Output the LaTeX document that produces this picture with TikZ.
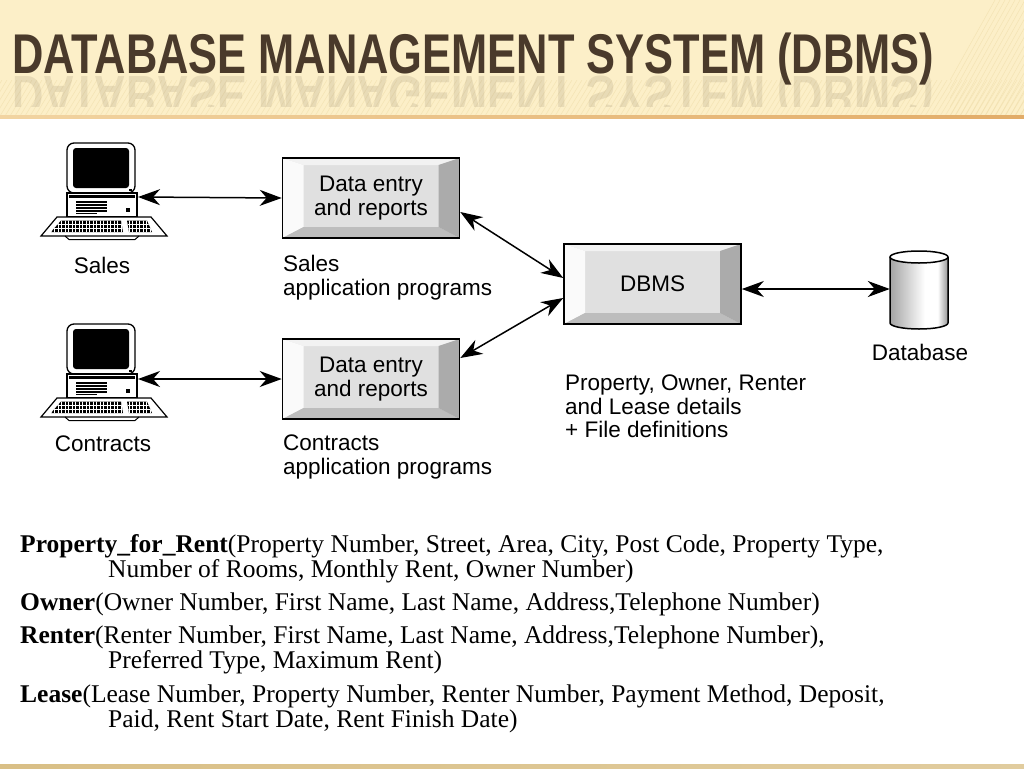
\documentclass[tikz,border=0pt]{standalone}
\usepackage{fontspec}
\setmainfont{Liberation Serif}
\newfontfamily\arialf{Liberation Sans}
\usetikzlibrary{arrows.meta}
\definecolor{band}{HTML}{FCEFC8}
\definecolor{stripec}{HTML}{EEDBA6}
\definecolor{bandline}{HTML}{E2AC68}
\definecolor{footline}{HTML}{D9BF86}
\definecolor{titlec}{HTML}{4A3A2B}
\definecolor{face}{HTML}{E0E0E0}
\definecolor{bevtop}{HTML}{F2F2F2}
\definecolor{bevleft}{HTML}{FAFAFA}
\definecolor{bevbot}{HTML}{BDBDBD}
\definecolor{bevright}{HTML}{ABABAB}
\definecolor{cylL}{HTML}{A4A4A4}
\definecolor{cylR}{HTML}{959595}
\pgfdeclarehorizontalshading{cylshade}{100bp}{color(0bp)=(cylL); color(25bp)=(cylL); color(55bp)=(white); color(66bp)=(white); color(75bp)=(cylR); color(100bp)=(cylR)}
\tikzset{
  sanstext/.style={font=\arialf\fontsize{22.5}{23.5}\selectfont, inner sep=0pt},
  serifline/.style={font=\fontsize{25.5}{27}\selectfont, anchor=base west, inner sep=0pt},
  titlest/.style={font=\arialf\bfseries\fontsize{56}{60}\selectfont, text=titlec, anchor=base west, inner sep=0pt, xscale=0.775},
  biarrow/.style={{Stealth[length=22pt,width=16pt,inset=7pt]}-{Stealth[length=22pt,width=16pt,inset=7pt]}, line width=1.5pt},
  bevelbox/.style={draw=black, line width=1.6pt, fill=face, minimum width=177pt, minimum height=80pt,
    sanstext, align=center,
    path picture={
      \fill[bevtop] (path picture bounding box.north west) -- (path picture bounding box.north east)
        -- ([xshift=-21pt,yshift=-7pt]path picture bounding box.north east)
        -- ([xshift=21pt,yshift=-7pt]path picture bounding box.north west) -- cycle;
      \fill[bevleft] (path picture bounding box.north west) -- (path picture bounding box.south west)
        -- ([xshift=21pt,yshift=11pt]path picture bounding box.south west)
        -- ([xshift=21pt,yshift=-7pt]path picture bounding box.north west) -- cycle;
      \fill[bevbot] (path picture bounding box.south west) -- (path picture bounding box.south east)
        -- ([xshift=-21pt,yshift=11pt]path picture bounding box.south east)
        -- ([xshift=21pt,yshift=11pt]path picture bounding box.south west) -- cycle;
      \fill[bevright] (path picture bounding box.north east) -- (path picture bounding box.south east)
        -- ([xshift=-21pt,yshift=11pt]path picture bounding box.south east)
        -- ([xshift=-21pt,yshift=-7pt]path picture bounding box.north east) -- cycle;
    }},
  computer/.pic={
    \draw[line width=1.3pt, fill=white, rounded corners=7pt] (0,0) rectangle (68,50);
    \fill[black, rounded corners=3pt] (6,5) rectangle (62,45);
    \fill (62,46) rectangle (65,48);
    \draw[line width=1.2pt, fill=white] (0,50) rectangle (70,74);
    \fill (2,52) rectangle (68,55);
    \foreach \yy in {58,61,64,67} \fill (9,\yy) rectangle (40,\yy+1.6);
    \fill (9,70) rectangle (30,71.3);
    \fill (59,65) rectangle (63,68.5);
    \draw[line width=1.2pt, fill=white] (-10,74) -- (84,74) -- (100,93) -- (-26,93) -- cycle;
    \begin{scope}
      \clip (-6,77.5) -- (54,77.5) -- (56,89) -- (-16,89) -- cycle;
      \fill (-20,77) rectangle (58,90);
      \foreach \yy in {81,85} \draw[white, line width=0.5pt] (-20,\yy) -- (58,\yy);
      \draw[white, line width=14pt, dash pattern=on 0.5pt off 3pt] (-20,83) -- (58,83);
    \end{scope}
    \begin{scope}
      \clip (60,77.5) -- (80,77.5) -- (85,89) -- (62,89) -- cycle;
      \fill (58,77) rectangle (88,90);
      \foreach \yy in {81,85} \draw[white, line width=0.5pt] (58,\yy) -- (88,\yy);
      \draw[white, line width=14pt, dash pattern=on 0.5pt off 3pt] (58,83) -- (88,83);
    \end{scope}
    \draw[line width=1pt] (-2,93) -- (2,96.5) -- (68,96.5) -- (72,93);
  }
}
\begin{document}
\begin{tikzpicture}[x=1pt,y=-1pt]
\useasboundingbox (0,0) rectangle (1024,768);
\fill[white] (0,0) rectangle (1024,768);
% header band
\fill[band] (0,0) rectangle (1024,117);
\begin{scope}
  \clip (0,80) rectangle (1024,116);
  \foreach \i in {-40,-35,...,1040} \draw[stripec, line width=0.5pt, opacity=0.6] (\i,116) -- (\i+22,80);
\end{scope}
\begin{scope}
  \clip (950,0) rectangle (1024,116);
  \foreach \i in {930,935,...,1060} \draw[stripec, line width=0.5pt, opacity=0.6] (\i,116) -- (\i+65,0);
\end{scope}
\shade[left color=band!60!bandline, right color=bandline] (0,115.5) rectangle (1024,118.5);
\shade[left color=footline, right color=footline!80!white] (0,764) rectangle (1024,768);
% title and reflection
\node[titlest] (title) at (12,73) {DATABASE MANAGEMENT SYSTEM (DBMS)};
\begin{scope}
  \clip (0,75) rectangle (1024,106);
  \node[titlest, yscale=-1, text opacity=0.11] (titlerefl) at (12,77) {DATABASE MANAGEMENT SYSTEM (DBMS)};
\end{scope}
% computers
\pic (pcS) at (67,143) {computer};
\pic (pcC) at (67,324) {computer};
\coordinate (pcSport) at (138,197);
\coordinate (pcCport) at (138,379);
\node[sanstext] (salesl) at (102,265) {Sales};
\node[sanstext] (contrl) at (103,444) {Contracts};
% boxes
\node[bevelbox] (box1) at (371,198) {Data entry\\and reports};
\node[bevelbox] (box2) at (371,379) {Data entry\\and reports};
\node[bevelbox] (dbms) at (652.5,284) {DBMS};
\node[sanstext, anchor=north west, align=left] (salesapp) at (283,255) {Sales\\application programs};
\node[sanstext, anchor=north west, align=left] (contrapp) at (283,435) {Contracts\\application programs};
\node[sanstext, anchor=north west, align=left] (details) at (565,375) {Property, Owner, Renter\\and Lease details\\+ File definitions};
% database cylinder
\node[minimum width=58pt, minimum height=76pt, inner sep=0pt] (db) at (919,289) {};
\shade[shading=cylshade] (890,257) -- (890,323) arc[start angle=180, end angle=0, x radius=29, y radius=6] -- (948,257) -- cycle;
\draw[line width=1.5pt] (890,257) -- (890,323) arc[start angle=180, end angle=0, x radius=29, y radius=6] -- (948,257);
\draw[line width=1.5pt, fill=white] (919,257) ellipse[x radius=29, y radius=6];
\node[sanstext] (dbl) at (920,352) {Database};
% connectors
\draw[biarrow] (pcSport) -- (box1.west);
\draw[biarrow] (pcCport) -- (box2.west);
\draw[biarrow] ([yshift=-14pt]box1.east) -- ([yshift=6pt]dbms.west);
\draw[biarrow] ([yshift=21pt]box2.east) -- ([yshift=-14pt]dbms.west);
\draw[biarrow] ([yshift=-5pt]dbms.east) -- (db.west);
% relations
\node[serifline] (pr1) at (20,552) {\textbf{Property\_for\_Rent}(Property Number, Street, Area, City, Post Code, Property Type,};
\node[serifline] (pr2) at (108,577) {Number of Rooms, Monthly Rent, Owner Number)};
\node[serifline] (ow) at (20,610) {\textbf{Owner}(Owner Number, First Name, Last Name, Address,Telephone Number)};
\node[serifline] (re1) at (20,643) {\textbf{Renter}(Renter Number, First Name, Last Name, Address,Telephone Number),};
\node[serifline] (re2) at (108,668) {Preferred Type, Maximum Rent)};
\node[serifline] (le1) at (20,702) {\textbf{Lease}(Lease Number, Property Number, Renter Number, Payment Method, Deposit,};
\node[serifline] (le2) at (108,727) {Paid, Rent Start Date, Rent Finish Date)};
\end{tikzpicture}
\end{document}
